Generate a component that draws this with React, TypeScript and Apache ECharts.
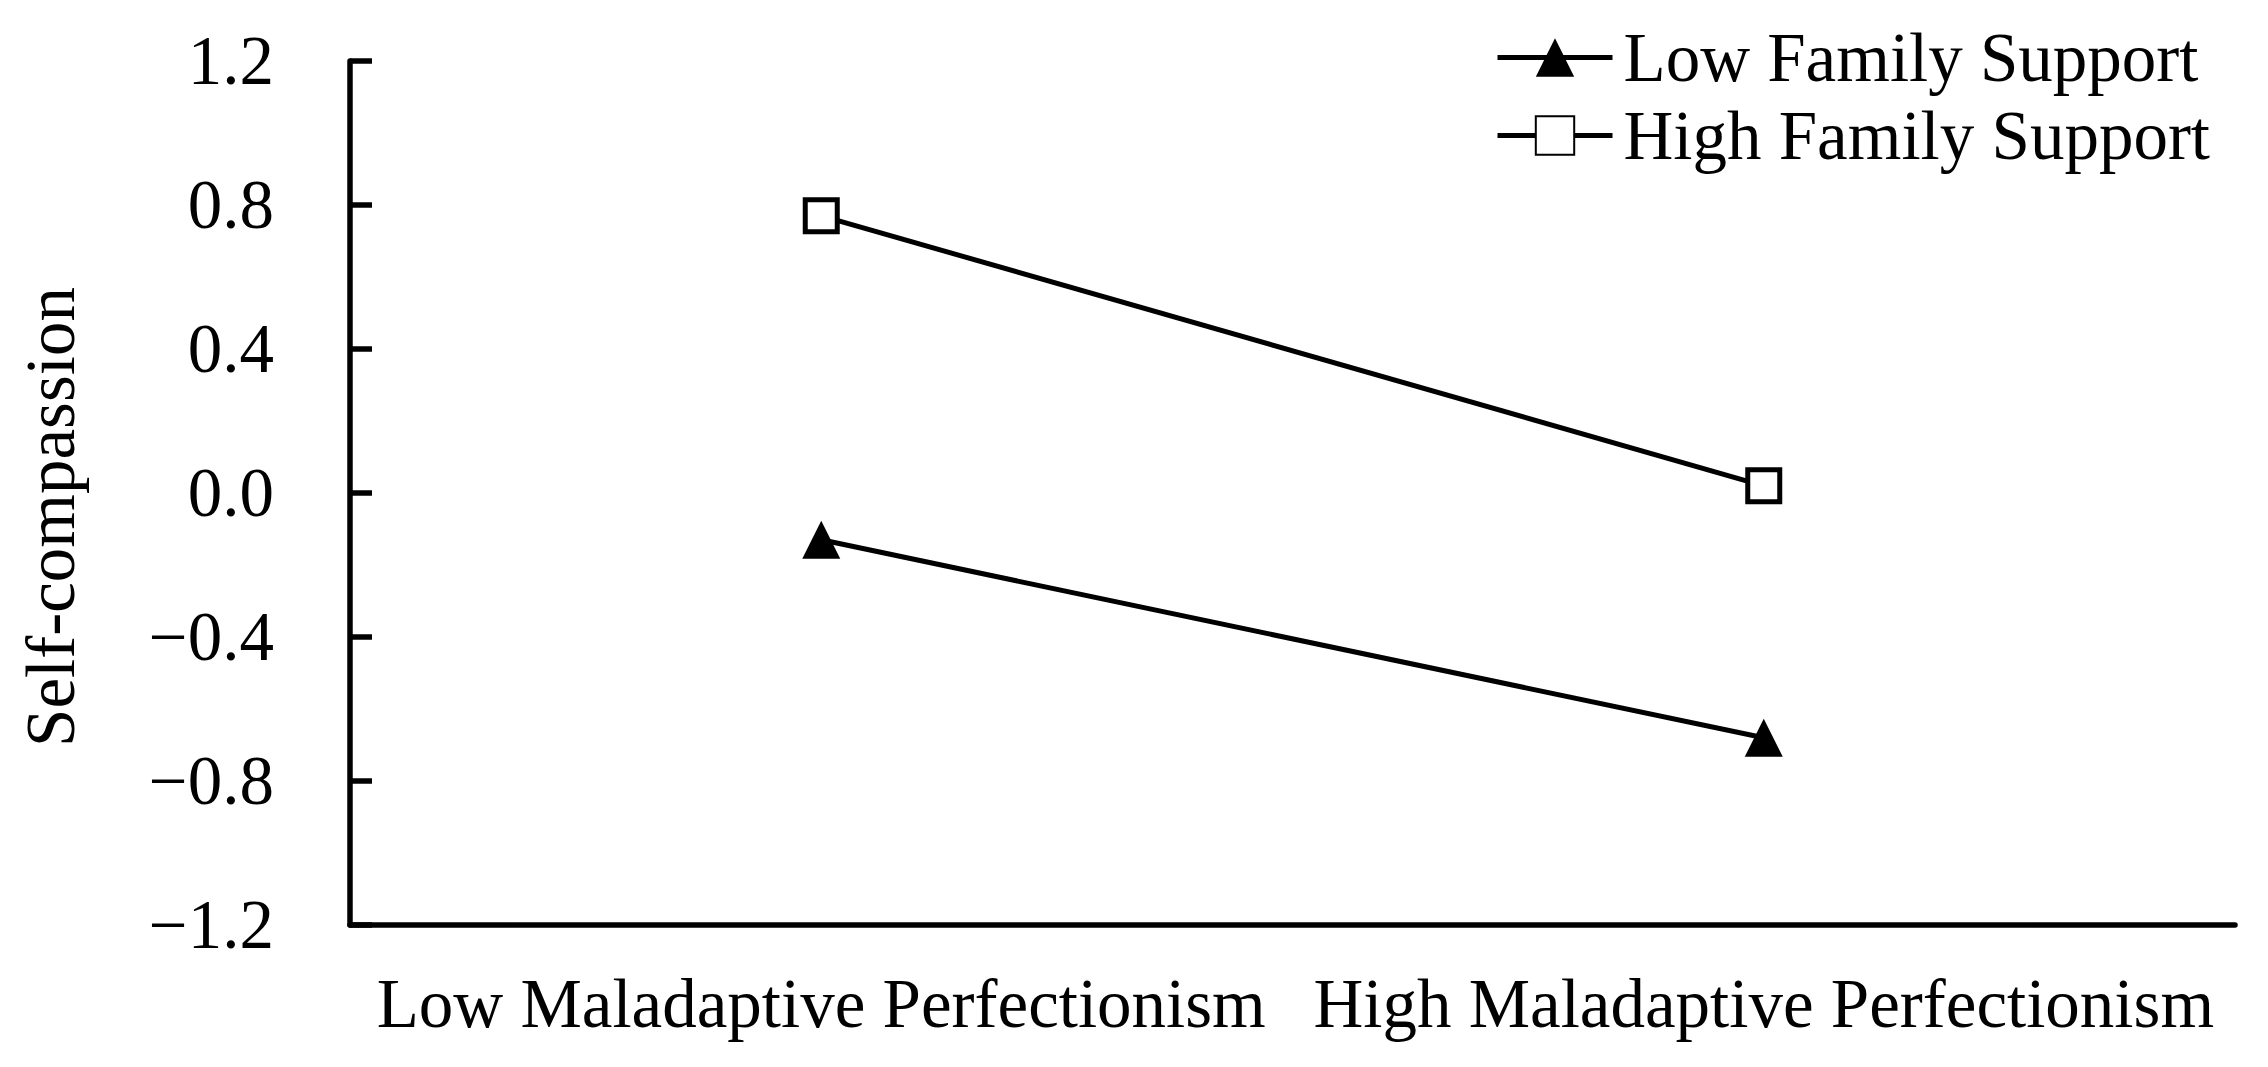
import React, { useEffect, useRef } from "react";
import * as echarts from "echarts";

const categories = ["Low Maladaptive Perfectionism", "High Maladaptive Perfectionism"];
const seriesNames = ["Low Family Support", "High Family Support"];
const lowFamilySupport = [-0.13, -0.68];
const highFamilySupport = [0.77, 0.02];
const yMin = -1.2;
const yMax = 1.2;
const yStep = 0.4;
const yAxisTitle = "Self-compassion";

const FONT = '"Liberation Serif", "Times New Roman", Times, serif';

export default function App() {
  const ref = useRef<HTMLDivElement>(null);
  useEffect(() => {
    document.body.style.margin = "0";
    if (!ref.current) return;
    const chart = echarts.init(ref.current, undefined, { renderer: "svg" });
    chart.setOption({
      animation: false,
      backgroundColor: "#fff",
      grid: { left: 350, right: 33, top: 61, bottom: 142, containLabel: false },
      legend: {
        orient: "vertical",
        left: 1490,
        top: 18,
        itemWidth: 115,
        itemHeight: 48,
        itemGap: 9,
        data: seriesNames,
        lineStyle: { width: 5, color: "#000" },
        textStyle: { fontSize: 69, fontFamily: FONT, color: "#000", padding: [0, 0, 0, 6] },
      },
      xAxis: {
        type: "category",
        data: categories,
        boundaryGap: true,
        axisLine: { onZero: false, lineStyle: { color: "#000", width: 5.5 } },
        axisTick: { show: false },
        axisLabel: { fontSize: 69, fontFamily: FONT, color: "#000", margin: 44, interval: 0 },
        splitLine: { show: false },
      },
      yAxis: {
        type: "value",
        min: yMin,
        max: yMax,
        interval: yStep,
        axisLine: { show: true, lineStyle: { color: "#000", width: 5.5 } },
        axisTick: { show: true, inside: true, length: 22, lineStyle: { color: "#000", width: 5.5 } },
        axisLabel: {
          fontSize: 69,
          fontFamily: FONT,
          color: "#000",
          margin: 76,
          formatter: (v: number) => {
            const s = Math.abs(v).toFixed(1);
            return v < -1e-9 ? "\u2212" + s : s;
          },
        },
        splitLine: { show: false },
      },
      graphic: [
        {
          type: "text",
          x: 51,
          y: 517,
          rotation: Math.PI / 2,
          style: {
            text: yAxisTitle,
            fontSize: 69,
            fontFamily: FONT,
            fill: "#000",
            align: "center",
            verticalAlign: "middle",
          },
        },
      ],
      series: [
        {
          name: seriesNames[0],
          type: "line",
          data: lowFamilySupport,
          symbol: "triangle",
          symbolSize: 38,
          lineStyle: { color: "#000", width: 5 },
          itemStyle: { color: "#000", borderColor: "#000", borderWidth: 0 },
        },
        {
          name: seriesNames[1],
          type: "line",
          data: highFamilySupport,
          symbol: "rect",
          symbolSize: 32,
          lineStyle: { color: "#000", width: 5 },
          itemStyle: { color: "#fff", borderColor: "#000", borderWidth: 5 },
        },
      ],
    });
    return () => chart.dispose();
  }, []);
  return <div ref={ref} style={{ width: 2268, height: 1067 }} />;
}
